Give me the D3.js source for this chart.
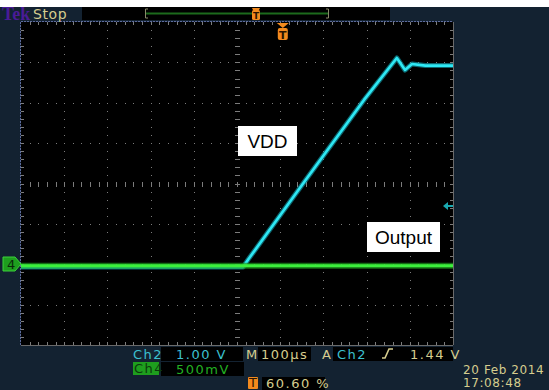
<!DOCTYPE html>
<meta charset='utf-8'>
<style>
  body { margin:0; background:#fff; }
  svg { display:block; }
  .ro { font-family:'DejaVu Sans'; font-size:13px; letter-spacing:1.5px; }
  .date { font-family:'DejaVu Sans'; font-size:12px; letter-spacing:0.6px; }
</style>
<body>
  <script src='https://d3js.org/d3.v7.min.js' charset='utf-8'></script>
  <script>

    // trace data (time in µs from trigger, volts)
    var ch2Time = [-606, -92, -80, 47, 188, 264, 283, 299, 330, 394];
    var ch2Volt = [-0.07, -0.07, 0.12, 2.0, 4.07, 5.11, 4.81, 4.96, 4.92, 4.92];
    var ch4Time = [-606, 394];
    var ch4Volt = [-0.02, -0.02];

    // scope settings
    var timeRange = [-606, 394];      // 100 µs/div, trigger at 60.6 %
    var ch2Range = [-2, 6];           // 1.00 V/div
    var ch4Range = [-1, 3];           // 500 mV/div
    var trigLevel = 1.44;

    var traceLabels = ['VDD', 'Output'];

    var width = 549;
    var height = 390;
    var gx0 = 21, gx1 = 453, gy0 = 22, gy1 = 345;

    var tan = '#d6cd8e';
    var cyanTxt = '#3cc0d0';
    var orange = '#f28a1e';

    var svg = d3.select('body').append('svg')
      .attr('width', width)
      .attr('height', height);

    svg.append('rect').attr('x', 0).attr('y', 7).attr('width', width).attr('height', height - 7)
      .attr('fill', '#132231');

    var x = d3.scaleLinear().domain(timeRange).range([gx0, gx1]);
    var y2 = d3.scaleLinear().domain(ch2Range).range([gy1, gy0]);
    var y4 = d3.scaleLinear().domain(ch4Range).range([gy1, gy0]);
    var xDiv = d3.scaleLinear().domain([0, 10]).range([gx0, gx1]);
    var yDiv = d3.scaleLinear().domain([0, 8]).range([gy0, gy1]);

    // graticule
    svg.append('rect').attr('x', gx0).attr('y', gy0).attr('width', gx1 - gx0).attr('height', gy1 - gy0)
      .attr('fill', '#000');

    var grid = svg.append('g').attr('fill', '#7c7c7c');
    var minX = d3.range(1, 50).map(function(d) { return d * 0.2; });
    var minY = d3.range(1, 40).map(function(d) { return d * 0.2; });

    d3.range(1, 10).forEach(function(i) {
      if (i === 5) return;
      minY.forEach(function(v) {
        grid.append('rect').attr('x', Math.round(xDiv(i))).attr('y', Math.round(yDiv(v))).attr('width', 1).attr('height', 1);
      });
    });
    d3.range(1, 8).forEach(function(j) {
      if (j === 4) return;
      minX.forEach(function(v) {
        grid.append('rect').attr('x', Math.round(xDiv(v))).attr('y', Math.round(yDiv(j))).attr('width', 1).attr('height', 1);
      });
    });
    // centre cross with ticks
    minY.forEach(function(v) {
      grid.append('rect').attr('x', Math.round(xDiv(5)) - 2).attr('y', Math.round(yDiv(v))).attr('width', 5).attr('height', 1);
    });
    minX.forEach(function(v) {
      grid.append('rect').attr('x', Math.round(xDiv(v))).attr('y', Math.round(yDiv(4)) - 2).attr('width', 1).attr('height', 5);
    });
    // edge ticks
    minX.forEach(function(v) {
      grid.append('rect').attr('x', Math.round(xDiv(v))).attr('y', gy0).attr('width', 1).attr('height', 3);
      grid.append('rect').attr('x', Math.round(xDiv(v))).attr('y', gy1 - 3).attr('width', 1).attr('height', 3);
    });
    minY.forEach(function(v) {
      grid.append('rect').attr('x', gx0).attr('y', Math.round(yDiv(v))).attr('width', 3).attr('height', 1);
      grid.append('rect').attr('x', gx1 - 3).attr('y', Math.round(yDiv(v))).attr('width', 3).attr('height', 1);
    });
    svg.append('line').attr('x1', gx0).attr('x2', gx1).attr('y1', gy0 - 0.5).attr('y2', gy0 - 0.5)
      .attr('stroke', '#5c6a9c').attr('stroke-dasharray', '2,1');
    svg.append('line').attr('x1', gx0 - 0.5).attr('x2', gx0 - 0.5).attr('y1', gy0).attr('y2', gy1)
      .attr('stroke', '#5c6a9c').attr('stroke-dasharray', '2,1');
    svg.append('line').attr('x1', gx1 + 0.5).attr('x2', gx1 + 0.5).attr('y1', gy0).attr('y2', gy1)
      .attr('stroke', '#6a6a6a');
    svg.append('line').attr('x1', gx0).attr('x2', gx1).attr('y1', gy1 + 0.5).attr('y2', gy1 + 0.5)
      .attr('stroke', '#6a6a6a');

    // traces
    var ch2 = ch2Time.map(function(t, i) { return [t, ch2Volt[i]]; });
    var ch4 = ch4Time.map(function(t, i) { return [t, ch4Volt[i]]; });
    var line2 = d3.line().x(function(d) { return x(d[0]); }).y(function(d) { return y2(d[1]); });
    var line4 = d3.line().x(function(d) { return x(d[0]); }).y(function(d) { return y4(d[1]); });

    svg.append('path').datum(ch2).attr('d', line2).attr('fill', 'none')
      .attr('stroke', '#14a8b8').attr('stroke-width', 5).attr('stroke-opacity', 0.6).attr('stroke-linejoin', 'round');
    svg.append('path').datum(ch2).attr('d', line2).attr('fill', 'none')
      .attr('stroke', '#2ee8f4').attr('stroke-width', 2.6).attr('stroke-linejoin', 'round');
    svg.append('path').datum(ch4).attr('d', line4).attr('fill', 'none')
      .attr('stroke', '#1c9a1c').attr('stroke-width', 6).attr('stroke-opacity', 0.7);
    svg.append('path').datum(ch4).attr('d', line4).attr('fill', 'none')
      .attr('stroke', '#3cf03c').attr('stroke-width', 3);

    // annotations
    var labelPos = [[238, 126, 59, 30], [367, 222, 73, 30]];
    traceLabels.forEach(function(t, i) {
      var p = labelPos[i];
      svg.append('rect').attr('x', p[0]).attr('y', p[1]).attr('width', p[2]).attr('height', p[3]).attr('fill', '#fff');
      svg.append('text').attr('x', p[0] + p[2] / 2).attr('y', p[1] + p[3] / 2 + 7)
        .attr('text-anchor', 'middle').attr('font-family', 'Liberation Sans, Arial').attr('font-size', 19)
        .attr('fill', '#000').text(t);
    });

    // channel 4 ground marker
    var g4 = Math.round(y4(0));
    svg.append('path').attr('d', 'M3,' + (g4 - 7) + 'H15L21,' + g4 + 'L15,' + (g4 + 7) + 'H3Z')
      .attr('fill', '#1e9e1e').attr('stroke', '#3ad23a');
    svg.append('text').attr('x', 7).attr('y', g4 + 5).attr('font-family', 'DejaVu Sans').attr('font-size', 13)
      .attr('fill', '#0a2a0a').text('4');

    // trigger level arrow
    var tl = y2(trigLevel);
    svg.append('path').attr('d', 'M443,' + tl + 'L448,' + (tl - 4) + 'V' + (tl - 1) + 'H453V' + (tl + 1) + 'H448V' + (tl + 4) + 'Z')
      .attr('fill', '#1aa8b0');

    // trigger position marker in graticule
    var tx = x(0);
    svg.append('path').attr('d', 'M' + (tx - 6) + ',' + 23 + 'H' + (tx + 6) + 'L' + tx + ',28Z').attr('fill', orange);
    svg.append('rect').attr('x', tx - 5).attr('y', 28).attr('width', 10).attr('height', 12).attr('rx', 2).attr('fill', orange);
    svg.append('text').attr('x', tx).attr('y', 38.5).attr('text-anchor', 'middle').attr('font-family', 'DejaVu Sans')
      .attr('font-weight', 'bold').attr('font-size', 11).attr('fill', '#2a1400').text('T');

    // top status bar
    svg.append('text').attr('x', 2).attr('y', 20).attr('font-family', 'Liberation Serif').attr('font-weight', 'bold')
      .attr('font-size', 18).attr('fill', '#4a1b96').text('Tek');
    svg.append('text').attr('x', 33).attr('y', 19).attr('font-family', 'DejaVu Sans')
      .attr('font-size', 14).attr('letter-spacing', 0.6).attr('fill', tan).text('Stop');
    svg.append('rect').attr('x', 82).attr('y', 7).attr('width', 308).attr('height', 13).attr('fill', '#000');
    svg.append('line').attr('x1', 146).attr('x2', 328).attr('y1', 13.5).attr('y2', 13.5).attr('stroke', '#1c6a1c').attr('stroke-width', 2);
    svg.append('path').attr('d', 'M148,9H145.5V18H148M326,9H328.5V18H326').attr('fill', 'none').attr('stroke', '#8a8a6a');
    svg.append('path').attr('d', 'M252,8H260L259,10H253Z').attr('fill', orange);
    svg.append('rect').attr('x', 252).attr('y', 10).attr('width', 8).attr('height', 10).attr('rx', 1.5).attr('fill', orange);
    svg.append('text').attr('x', 256).attr('y', 19).attr('text-anchor', 'middle').attr('font-family', 'DejaVu Sans')
      .attr('font-weight', 'bold').attr('font-size', 9).attr('fill', '#2a1400').text('T');

    // bottom readouts
    var boxes = [[161, 347, 82, 14], [258, 347, 53, 14], [333, 347, 120, 14], [161, 362, 83, 14], [262, 377, 63, 13]];
    boxes.forEach(function(b) {
      svg.append('rect').attr('x', b[0]).attr('y', b[1]).attr('width', b[2]).attr('height', b[3]).attr('fill', '#000');
    });
    svg.append('rect').attr('x', 133).attr('y', 362).attr('width', 26).attr('height', 13).attr('fill', '#1e9e1e');
    svg.append('rect').attr('x', 248).attr('y', 377).attr('width', 10).attr('height', 12).attr('rx', 1).attr('fill', orange);

    var texts = [
      [133, 359, 'Ch2', cyanTxt], [176, 359, '1.00 V', cyanTxt],
      [246, 359, 'M', tan], [261, 359, '100µs', tan],
      [322, 359, 'A', tan], [337, 359, 'Ch2', cyanTxt], [410, 359, '1.44 V', tan],
      [134, 373, 'Ch4', '#0c3a0c'], [176, 374, '500mV', '#22b022'],
      [249, 387, 'T', '#2a1400'], [266, 388, '60.60 %', tan]
    ];
    texts.forEach(function(t) {
      svg.append('text').attr('class', 'ro').attr('x', t[0]).attr('y', t[1]).attr('fill', t[3]).text(t[2]);
    });
    var dateLines = ['20 Feb 2014', '17:08:48'];
    dateLines.forEach(function(d, i) {
      svg.append('text').attr('class', 'date').attr('x', 463).attr('y', 374 + i * 13).attr('fill', tan).text(d);
    });
    // rising edge slope symbol
    svg.append('path').attr('d', 'M382,358H385L389,349H393').attr('fill', 'none').attr('stroke', tan).attr('stroke-width', 1.6);

  </script>
</body>
